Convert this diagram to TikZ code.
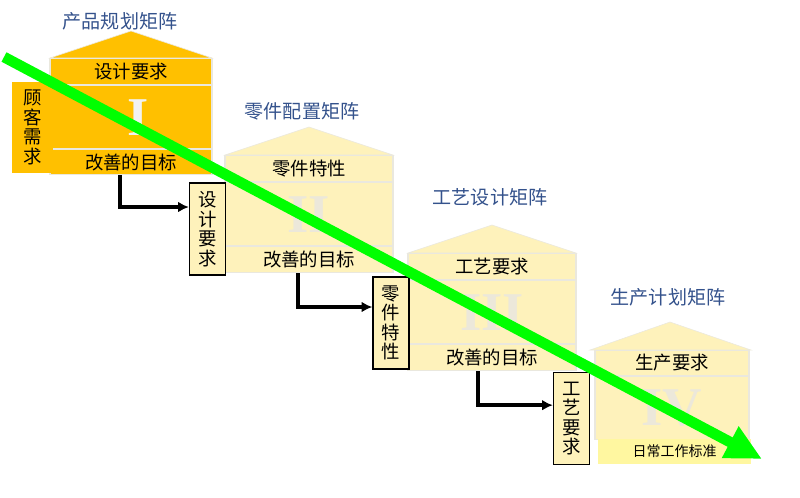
\documentclass[tikz,border=0pt]{standalone}
\usepackage{fontspec}
\usepackage{tikz}
\usetikzlibrary{arrows.meta, positioning}
\newfontfamily\cjk{Noto Sans CJK SC}
\newfontfamily\romfont{Liberation Serif}
\definecolor{gold}{RGB}{255,192,0}
\definecolor{cream}{RGB}{254,242,187}
\definecolor{lemon}{RGB}{255,247,160}
\definecolor{edge}{RGB}{234,232,222}
\definecolor{titleblue}{RGB}{52,82,140}
\definecolor{numeral}{RGB}{236,232,218}
\definecolor{arrowgreen}{RGB}{0,255,0}
\tikzset{
	% matrix titles
	mtitle/.style={
		font=\cjk\fontsize{14.3}{16}\selectfont,
		text=titleblue
	}, %
	% rows of a house
	hrow/.style={
		draw=edge,
		line width=0.8pt,
		inner sep=0pt,
		anchor=north,
		font=\cjk\fontsize{13.8}{15}\selectfont
	}, %
	% big roman numbers
	numeral/.style={
		font=\romfont\bfseries\fontsize{41}{41}\selectfont,
		text=numeral
	}, %
	% upright boxes between houses
	vbox/.style={
		draw=black,
		line width=1pt,
		fill=cream,
		align=center,
		inner sep=0pt,
		minimum width=27pt,
		minimum height=69pt,
		font=\cjk\fontsize{13.8}{14.6}\selectfont
	}, %
	% black connectors
	flow/.style={
		line width=2.6pt,
		-{Latex[length=8pt,width=8pt]}
	}
}

\begin{document}
\begin{tikzpicture}[x=0.75pt, y=-0.75pt]
	\useasboundingbox (0,0) rectangle (800,497);
	
	% house I
	\filldraw[fill=gold, draw=edge] (50,58) -- (131,31) -- (212,58) -- cycle;
	\node[hrow, fill=gold, minimum width=121.5pt, minimum height=19.5pt] (req1) at (131,58) {设计要求};
	\node[hrow, fill=gold, minimum width=121.5pt, minimum height=47.25pt, below=0pt of req1] (mid1) {};
	\node[hrow, fill=gold, minimum width=121.5pt, minimum height=18.75pt, below=0pt of mid1] (goal1) {改善的目标};
	\node[numeral, text=white!90!gray] at ([xshift=5pt]mid1) {I};
	\node[fill=gold, align=center, inner sep=0pt, minimum width=30.75pt, minimum height=68.25pt,
		font=\cjk\fontsize{13.8}{14.6}\selectfont] (cust) at (32.5,127.5) {顾\\客\\需\\求};
	
	% house II
	\filldraw[fill=cream, draw=edge] (225,155) -- (309,127) -- (393,155) -- cycle;
	\node[hrow, fill=cream, minimum width=126pt, minimum height=19.5pt] (req2) at (309,155) {零件特性};
	\node[hrow, fill=cream, minimum width=126pt, minimum height=47.25pt, below=0pt of req2] (mid2) {};
	\node[hrow, fill=cream, minimum width=126pt, minimum height=19.5pt, below=0pt of mid2] (goal2) {改善的目标};
	\node[numeral] at (mid2) {II};
	
	% house III
	\filldraw[fill=cream, draw=edge] (408,253) -- (492,225) -- (576,253) -- cycle;
	\node[hrow, fill=cream, minimum width=126pt, minimum height=19.5pt] (req3) at (492,253) {工艺要求};
	\node[hrow, fill=cream, minimum width=126pt, minimum height=47.25pt, below=0pt of req3] (mid3) {};
	\node[hrow, fill=cream, minimum width=126pt, minimum height=19.5pt, below=0pt of mid3] (goal3) {改善的目标};
	\node[numeral] at (mid3) {III};
	
	% house IV
	\filldraw[fill=cream, draw=edge] (590,350) -- (670,322) -- (751,350) -- cycle;
	\node[hrow, fill=cream, minimum width=115.5pt, minimum height=18.75pt] (req4) at (672,350) {生产要求};
	\node[hrow, fill=cream, minimum width=115.5pt, minimum height=47.25pt, below=0pt of req4] (mid4) {};
	\node[numeral] at (mid4) {IV};
	\node[hrow, draw=none, fill=lemon, minimum width=114.75pt, minimum height=18.75pt,
		font=\cjk\fontsize{10.5}{12}\selectfont] (std4) at (674.5,438.5) {日常工作标准};
	
	% boxes
	\node[vbox] (box1) at (207.5,229) {设\\计\\要\\求};
	\node[vbox] (box2) at (391,323) {零\\件\\特\\性};
	\node[vbox] (box3) at (571.5,418.5) {工\\艺\\要\\求};
	
	% connectors
	\draw[flow] ([xshift=-8.25pt]goal1.south) |- ([yshift=16.5pt]box1.west);
	\draw[flow] ([xshift=-8.25pt]goal2.south) |- ([yshift=12pt]box2.west);
	\draw[flow] ([xshift=-10.5pt]goal3.south) |- ([yshift=10pt]box3.west);
	
	% green arrow
	\coordinate (gstart) at (4,57);
	\coordinate (gend) at (762,459);
	\draw[arrowgreen, line width=8pt, -{Triangle[length=27pt,width=25pt]}] (gstart) -- (gend);
	
	% titles
	\node[mtitle] (t1) at (120,21) {产品规划矩阵};
	\node[mtitle] (t2) at (302,111) {零件配置矩阵};
	\node[mtitle] (t3) at (490,197) {工艺设计矩阵};
	\node[mtitle] (t4) at (668,297) {生产计划矩阵};
\end{tikzpicture}
\end{document}
